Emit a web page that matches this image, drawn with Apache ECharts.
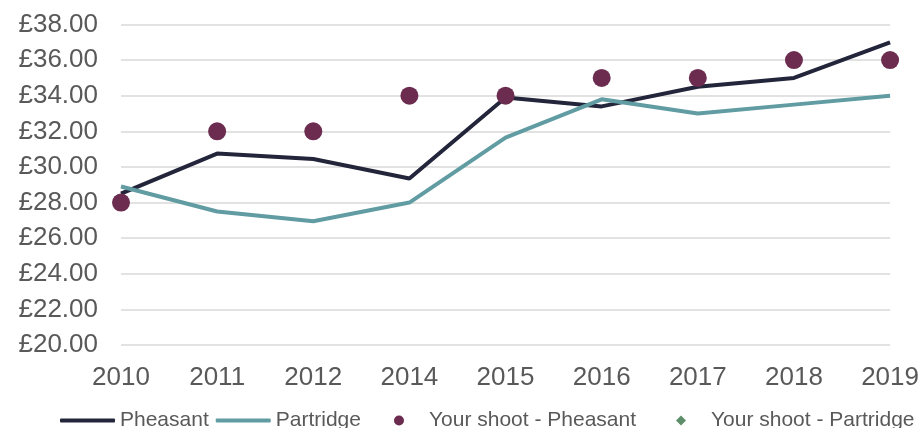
<!DOCTYPE html>
<html>
<head>
<meta charset="utf-8">
<script src="https://cdn.jsdelivr.net/npm/echarts@6/dist/echarts.min.js"></script>
<style>
  html, body { margin: 0; padding: 0; background: #fff; }
  #chart { width: 922px; height: 428px; }
</style>
</head>
<body>
<div id="chart"></div>
<script>
// data
var years = ['2010', '2011', '2012', '2014', '2015', '2016', '2017', '2018', '2019'];
var pheasant = [28.5, 30.75, 30.45, 29.35, 33.9, 33.4, 34.5, 35.0, 37.0];
var partridge = [28.9, 27.5, 26.95, 28.0, 31.65, 33.8, 33.0, 33.5, 34.0];
var shootPheasant = [28, 32, 32, 34, 34, 35, 35, 36, 36];
var shootPartridge = [];

var myChart = echarts.init(document.getElementById('chart'));

var font = 'Liberation Sans, Arial, sans-serif';
var legendText = { fontSize: 21, color: '#595959', fontFamily: font };

var option = {
  animation: false,
  textStyle: { fontFamily: font },
  grid: { left: 121, right: 31, top: 24.5, bottom: 83 },
  legend: [
    {
      data: ['Pheasant', 'Partridge'],
      left: 55,
      top: 405,
      itemWidth: 55,
      itemHeight: 4,
      itemGap: 7,
      icon: 'roundRect',
      textStyle: legendText
    },
    {
      data: [{ name: 'Your shoot - Pheasant', icon: 'circle' }],
      left: 389,
      top: 405,
      itemWidth: 10,
      itemHeight: 10,
      textStyle: Object.assign({ padding: [0, 0, 0, 20] }, legendText)
    },
    {
      data: [{ name: 'Your shoot - Partridge', icon: 'diamond' }],
      left: 671,
      top: 405,
      itemWidth: 10,
      itemHeight: 10,
      textStyle: Object.assign({ padding: [0, 0, 0, 20] }, legendText)
    }
  ],
  xAxis: {
    type: 'category',
    data: years,
    boundaryGap: false,
    axisLine: { show: false },
    axisTick: { show: false },
    axisLabel: { fontSize: 26, color: '#595959', margin: 20, fontFamily: font }
  },
  yAxis: {
    type: 'value',
    min: 20,
    max: 38,
    interval: 2,
    axisLine: { show: false },
    axisTick: { show: false },
    splitLine: { lineStyle: { color: '#d9d9d9', width: 1.5 } },
    axisLabel: {
      fontSize: 26,
      color: '#595959',
      margin: 23,
      fontFamily: font,
      formatter: function (v) { return '£' + v.toFixed(2); }
    }
  },
  series: [
    {
      name: 'Pheasant',
      type: 'line',
      data: pheasant,
      symbol: 'none',
      color: '#23253a',
      lineStyle: { width: 4, color: '#23253a' }
    },
    {
      name: 'Partridge',
      type: 'line',
      data: partridge,
      symbol: 'none',
      color: '#609ca2',
      lineStyle: { width: 4, color: '#609ca2' }
    },
    {
      name: 'Your shoot - Pheasant',
      type: 'scatter',
      data: shootPheasant,
      symbol: 'circle',
      symbolSize: 18,
      color: '#6b2c4f',
      itemStyle: { color: '#6b2c4f', opacity: 1 },
      z: 5
    },
    {
      name: 'Your shoot - Partridge',
      type: 'scatter',
      data: shootPartridge,
      symbol: 'diamond',
      symbolSize: 10,
      color: '#5e8f6a',
      itemStyle: { color: '#5e8f6a', opacity: 1 }
    }
  ]
};

myChart.setOption(option);
</script>
</body>
</html>
